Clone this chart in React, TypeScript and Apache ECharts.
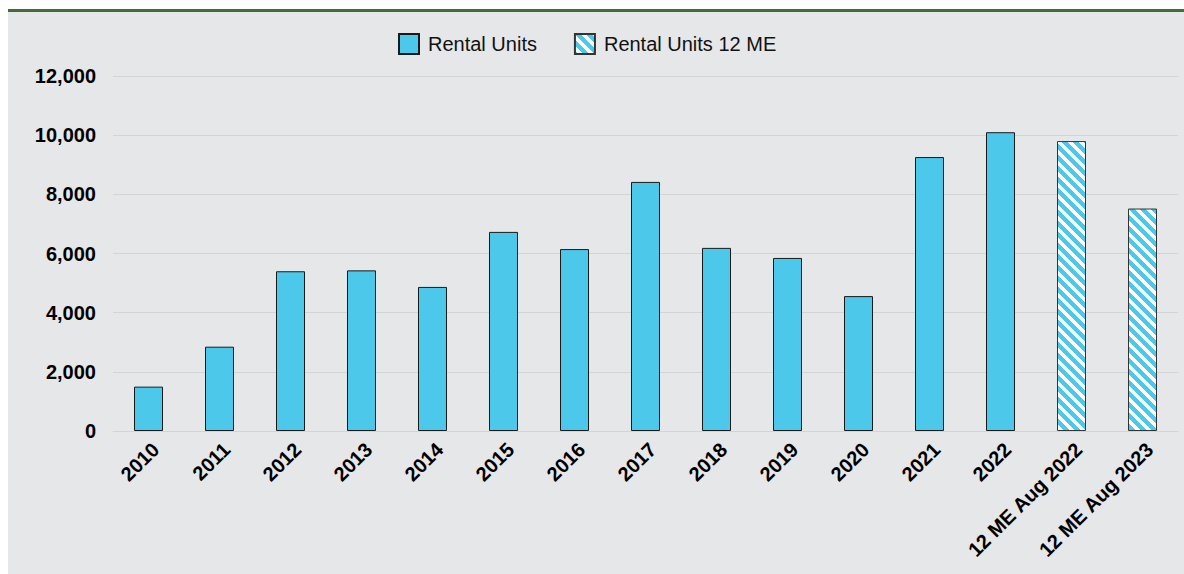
import { useEffect, useRef } from "react";
import * as echarts from "echarts";

const categories = [
  "2010", "2011", "2012", "2013", "2014", "2015", "2016", "2017", "2018",
  "2019", "2020", "2021", "2022", "12 ME Aug 2022", "12 ME Aug 2023",
];
const rentalUnits: (number | null)[] = [
  1500, 2850, 5400, 5430, 4870, 6730, 6150, 8420, 6190, 5850, 4560, 9260, 10100, null, null,
];
const rentalUnits12ME: (number | null)[] = [
  null, null, null, null, null, null, null, null, null, null, null, null, null, 9800, 7520,
];
const yMax = 12000;
const yInterval = 2000;

const CYAN = "#4cc8ea";

function makeStripe(): string {
  const size = 11;
  const c = document.createElement("canvas");
  c.width = size;
  c.height = size;
  const ctx = c.getContext("2d")!;
  const img = ctx.createImageData(size, size);
  for (let y = 0; y < size; y++) {
    for (let x = 0; x < size; x++) {
      const d = (((x - y) % size) + size) % size;
      const i = (y * size + x) * 4;
      if (d < 6) {
        img.data[i] = 0x4c; img.data[i + 1] = 0xc8; img.data[i + 2] = 0xea;
      } else {
        img.data[i] = 255; img.data[i + 1] = 255; img.data[i + 2] = 255;
      }
      img.data[i + 3] = 255;
    }
  }
  ctx.putImageData(img, 0, 0);
  return c.toDataURL();
}

export default function App() {
  const ref = useRef<HTMLDivElement>(null);
  useEffect(() => {
    if (!ref.current) return;
    const chart = echarts.init(ref.current, undefined, { renderer: "svg" });
    const stripe = makeStripe();
    const font = "Arial, 'Liberation Sans', sans-serif";
    chart.setOption({
      animation: false,
      backgroundColor: "#e6e7e9",
      legend: {
        top: 16,
        left: 385,
        icon: "rect",
        itemWidth: 20,
        itemHeight: 20,
        itemGap: 37,
        textStyle: { fontSize: 20, color: "#111", fontFamily: font, padding: [0, 0, 0, 4] },
        data: ["Rental Units", "Rental Units 12 ME"],
      },
      grid: { left: 105, right: 6, top: 64, bottom: 143, containLabel: false },
      xAxis: {
        type: "category",
        data: categories,
        axisLine: { show: true, lineStyle: { color: "#d4d4d4", width: 1 } },
        axisTick: { show: false },
        axisLabel: {
          rotate: 45,
          interval: 0,
          margin: 8,
          verticalAlign: "top",
          fontSize: 20,
          fontWeight: "bold",
          color: "#000",
          fontFamily: font,
        },
      },
      yAxis: {
        type: "value",
        min: 0,
        max: yMax,
        interval: yInterval,
        axisLine: { show: false },
        axisTick: { show: false },
        splitLine: { lineStyle: { color: "#d4d4d4", width: 1 } },
        axisLabel: {
          margin: 17,
          fontSize: 20,
          fontWeight: "bold",
          color: "#000",
          fontFamily: font,
          formatter: (v: number) => v.toLocaleString("en-US"),
        },
      },
      series: [
        {
          name: "Rental Units",
          type: "bar",
          data: rentalUnits,
          barWidth: 29,
          barGap: "-100%",
          itemStyle: { color: CYAN, borderColor: "#1a1a1a", borderWidth: 1 },
        },
        {
          name: "Rental Units 12 ME",
          type: "bar",
          data: rentalUnits12ME,
          barWidth: 29,
          itemStyle: {
            color: { image: stripe, repeat: "repeat" },
            borderColor: "#333",
            borderWidth: 1,
          },
        },
      ],
    });
    return () => chart.dispose();
  }, []);
  return (
    <>
      <div
        style={{
          position: "absolute", left: 8, top: 9, width: 1176, height: 3,
          background: "#466b3b",
        }}
      />
      <div
        ref={ref}
        style={{ position: "absolute", left: 8, top: 12, width: 1176, height: 562 }}
      />
    </>
  );
}
